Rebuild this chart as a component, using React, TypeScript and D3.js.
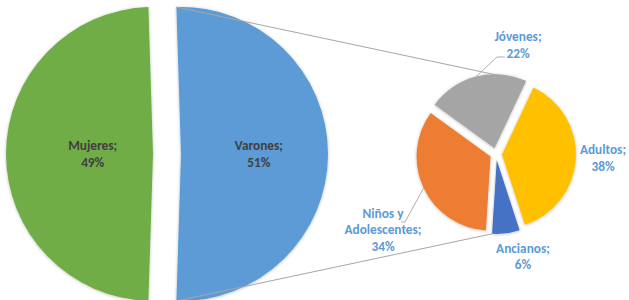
import React, { useEffect } from "react";
import * as d3 from "d3";

// main pie
const mainCategories = ["Mujeres", "Varones"];
const mainValues = [49, 51];

// breakdown of "Varones"
const subCategories = ["Jóvenes", "Adultos", "Ancianos", "Niños y Adolescentes"];
const subValues = [22, 38, 6, 34];

const mainColors = ["#70AD47", "#5B9BD5"];
const subColors = ["#A5A5A5", "#FFC000", "#4472C4", "#ED7D31"];

const W = 629;
const H = 300;
const FONT = "Carlito, Calibri, Lato, 'Open Sans', sans-serif";
const rad = (deg: number) => (deg * Math.PI) / 180;

// label placement for the small pie (offsets from its centre) and leader elbows
const subLabelPos = [
  { dx: 22, dy: -109, leader: [[-21, 12], [-13, 12]] },
  { dx: 107, dy: 4, leader: null },
  { dx: 27, dy: 102.5, leader: null },
  { dx: -113, dy: 75.5, leader: [[22, -7.5], [18, -7.5]] },
];

const wrap = (s: string, max = 13) => {
  const lines: string[] = [];
  s.split(" ").forEach((w) => {
    const last = lines[lines.length - 1];
    if (last !== undefined && (last + " " + w).length <= max) lines[lines.length - 1] = last + " " + w;
    else lines.push(w);
  });
  return lines;
};

const pt = (c: [number, number], r: number, a: number): [number, number] => [
  c[0] + r * Math.sin(a),
  c[1] - r * Math.cos(a),
];

export default function App() {
  useEffect(() => {
    document.body.style.margin = "0";
  }, []);

  // big pie
  const bigC: [number, number] = [167, 154];
  const bigR = 147;
  const bigExplode = 14;
  const total = d3.sum(mainValues);
  const bigStart = 1.5 * Math.PI - (mainValues[0] / total) * Math.PI;
  const bigPie = d3
    .pie<number>()
    .sort(null)
    .startAngle(bigStart)
    .endAngle(bigStart + 2 * Math.PI);
  const bigArcs = bigPie(mainValues);
  const bigArc = d3.arc<d3.PieArcDatum<number>>().innerRadius(0).outerRadius(bigR);
  const bigLabelFrac = [0.41, 0.53];

  // small pie
  const smC: [number, number] = [496, 154];
  const smR = 74;
  const smExplode = 6;
  const smStart = rad(-54);
  const smPie = d3
    .pie<number>()
    .sort(null)
    .startAngle(smStart)
    .endAngle(smStart + 2 * Math.PI);
  const smArcs = smPie(subValues);
  const smArc = d3.arc<d3.PieArcDatum<number>>().innerRadius(0).outerRadius(smR);

  const vertex = (c: [number, number], e: number, d: d3.PieArcDatum<number>) =>
    pt(c, e, (d.startAngle + d.endAngle) / 2);

  // connector lines: Varones arc ends -> small pie
  const vArc = bigArcs[1];
  const vV = vertex(bigC, bigExplode, vArc);
  const topStart = pt(vV, bigR, vArc.startAngle);
  const botStart = pt(vV, bigR, vArc.endAngle);
  const jV = vertex(smC, smExplode, smArcs[0]);
  const topEnd = pt(jV, smR, smArcs[0].endAngle);
  const aV = vertex(smC, smExplode, smArcs[2]);
  const botEnd = pt(aV, smR, smArcs[2].endAngle);

  const lineH = 16.5;
  const subTotal = d3.sum(subValues);

  return (
    <svg width={W} height={H} style={{ display: "block" }} fontFamily={FONT}>
      <defs>
        <filter id="sh" x="-20%" y="-20%" width="140%" height="140%">
          <feDropShadow dx="0" dy="0.5" stdDeviation="1.8" floodColor="#000" floodOpacity="0.28" />
        </filter>
      </defs>
      <rect width={W} height={H} fill="#fff" />

      {bigArcs.map((d, i) => {
        const v = vertex(bigC, bigExplode, d);
        return (
          <path
            key={mainCategories[i]}
            d={bigArc(d) || ""}
            transform={`translate(${v[0]},${v[1]})`}
            fill={mainColors[i]}
            filter="url(#sh)"
          />
        );
      })}

      {smArcs.map((d, i) => {
        const v = vertex(smC, smExplode, d);
        return (
          <path
            key={subCategories[i]}
            d={smArc(d) || ""}
            transform={`translate(${v[0]},${v[1]})`}
            fill={subColors[i]}
            filter="url(#sh)"
          />
        );
      })}

      <line x1={topStart[0]} y1={topStart[1]} x2={topEnd[0]} y2={topEnd[1]} stroke="#A6A6A6" strokeWidth={1} />
      <line x1={botStart[0]} y1={botStart[1]} x2={botEnd[0]} y2={botEnd[1]} stroke="#A6A6A6" strokeWidth={1} />

      {bigArcs.map((d, i) => {
        const v = vertex(bigC, bigExplode, d);
        const p = pt(v, bigR * bigLabelFrac[i], (d.startAngle + d.endAngle) / 2);
        const pct = Math.round((mainValues[i] / total) * 100);
        return (
          <text key={i} x={p[0]} y={p[1]} textAnchor="middle" fontWeight="bold" fontSize={13.3} fill="#404040">
            <tspan x={p[0]} dy={-lineH / 2 + 4.5}>{mainCategories[i] + ";"}</tspan>
            <tspan x={p[0]} dy={lineH}>{pct + "%"}</tspan>
          </text>
        );
      })}

      {smArcs.map((d, i) => {
        const pos = subLabelPos[i];
        const cx = smC[0] + pos.dx;
        const cy = smC[1] + pos.dy;
        const lines = [...wrap(subCategories[i] + ";"), Math.round((subValues[i] / subTotal) * 100) + "%"];
        const v = vertex(smC, smExplode, d);
        const tip = pt(v, smR, (d.startAngle + d.endAngle) / 2);
        return (
          <g key={i}>
            {pos.leader && (
              <polyline
                points={[tip, ...pos.leader.map(([x, y]) => [cx + x, cy + y])].map((q) => q.join(",")).join(" ")}
                fill="none"
                stroke="#A6A6A6"
                strokeWidth={0.9}
              />
            )}
            <text x={cx} y={cy} textAnchor="middle" fontWeight="bold" fontSize={13.3} fill="#5B9BD5">
              {lines.map((l, j) => (
                <tspan key={j} x={cx} dy={j === 0 ? -((lines.length - 1) * lineH) / 2 + 4.5 : lineH}>
                  {l}
                </tspan>
              ))}
            </text>
          </g>
        );
      })}
    </svg>
  );
}
